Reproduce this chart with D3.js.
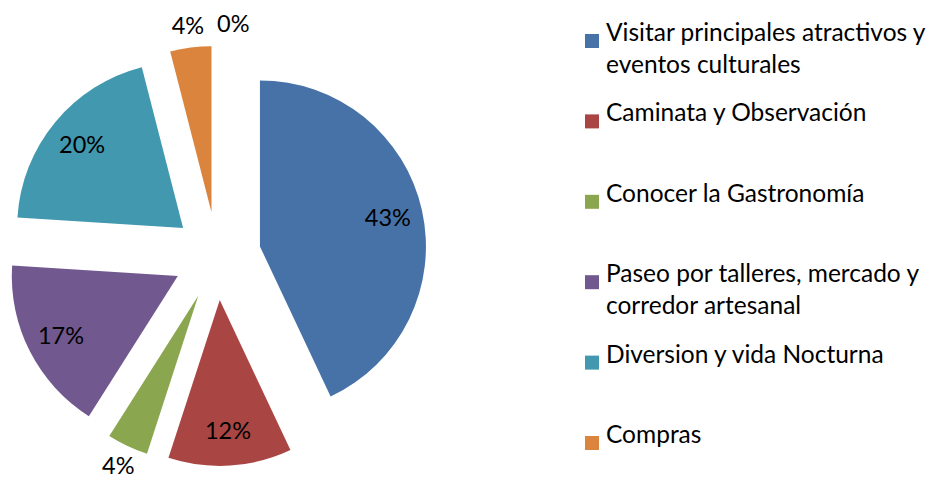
<!DOCTYPE html>
<html>
<head>
<meta charset="utf-8">
<script src="https://cdn.jsdelivr.net/npm/d3@7"></script>
<style>
  body { margin: 0; background: #fff; }
  svg { display: block; font-family: Lato, "Open Sans", sans-serif; }
</style>
</head>
<body>
<svg id="chart" width="932" height="483"></svg>
<script>
// data
var categories = [
    "Visitar principales atractivos y eventos culturales",
    "Caminata y Observación",
    "Conocer la Gastronomía",
    "Paseo por talleres, mercado y corredor artesanal",
    "Diversion y vida Nocturna",
    "Compras",
    ""
];
var values = [43, 12, 4, 17, 20, 4, 0];
var colors = ["#4672A8", "#A94643", "#8AA64F", "#71588F", "#4198AF", "#DB843D", "#8FA8CC"];

//layout
var width = 932, height = 483;
var cx = 217, cy = 256;
var radius = 166;
var explode = 44;

var svg = d3.select("#chart");

var pie = d3.pie().sort(null).value(function(d){ return d.value; });
var arcs = pie(values.map(function(v, i){ return {name: categories[i], value: v, i: i}; }));
var arc = d3.arc().innerRadius(0).outerRadius(radius);

function dir(d) {
    var a = (d.startAngle + d.endAngle) / 2;
    return [Math.sin(a), -Math.cos(a)];
}

function labelRadius(d) {
    return d.data.value >= 10 ? radius * 0.79 : radius + 22;
}

var g = svg.append("g").attr("transform", "translate(" + cx + "," + cy + ")");

var slices = g.selectAll(".slice")
    .data(arcs)
    .enter().append("g")
    .attr("class", "slice")
    .attr("transform", function(d){
        var v = dir(d);
        return "translate(" + (v[0] * explode) + "," + (v[1] * explode) + ")";
    });

slices.append("path")
    .attr("d", arc)
    .attr("fill", function(d){ return colors[d.data.i]; });

//percent labels, inside for the big ones, outside for the small ones
slices.append("text")
    .attr("x", function(d){ return dir(d)[0] * labelRadius(d); })
    .attr("y", function(d){ return dir(d)[1] * labelRadius(d); })
    .attr("dy", "0.35em")
    .attr("text-anchor", function(d){ return d.data.value == 0 ? "start" : "middle"; })
    .attr("font-size", 23.5)
    .attr("fill", "#000")
    .text(function(d){ return d.data.value + "%"; });

//legend
var legendX = 585, legendY = 41, legendStep = 80.4, legendWidth = 340;
var legend = svg.append("g");

categories.forEach(function(name, i){
    if (!name) return;
    var y = legendY + i * legendStep;
    legend.append("rect")
        .attr("x", legendX)
        .attr("y", y - 7)
        .attr("width", 14)
        .attr("height", 14)
        .attr("fill", colors[i]);

    var t = legend.append("text")
        .attr("x", legendX + 21)
        .attr("y", y)
        .attr("dy", "0.35em")
        .attr("font-size", 24.5)
        .attr("fill", "#000");

    //simple word wrap
    var words = name.split(" ");
    var line = [];
    var tspan = t.append("tspan").attr("x", legendX + 21).attr("dy", 0);
    words.forEach(function(w){
        line.push(w);
        tspan.text(line.join(" "));
        if (tspan.node().getComputedTextLength() > legendWidth && line.length > 1) {
            line.pop();
            tspan.text(line.join(" "));
            line = [w];
            tspan = t.append("tspan").attr("x", legendX + 21).attr("dy", 32).text(w);
        }
    });
});
</script>
</body>
</html>
